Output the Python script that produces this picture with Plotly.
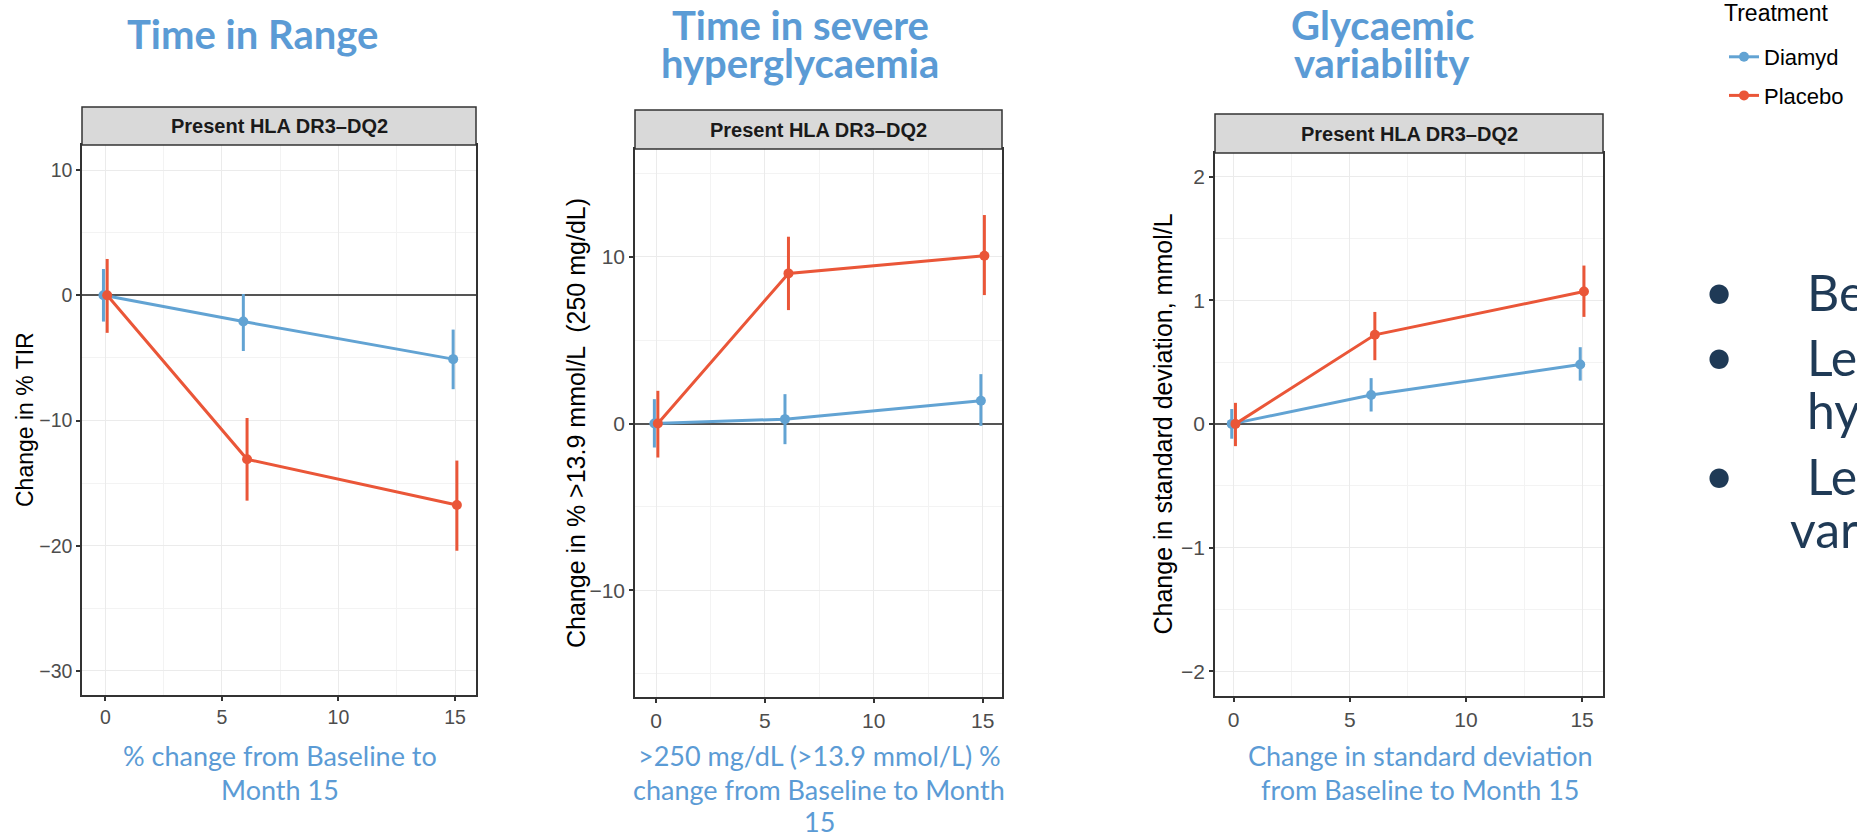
import plotly.graph_objects as go

W, H = 1857, 839

# ---------------- data ----------------
months = [0, 6, 15]
treatments = ["Diamyd", "Placebo"]

tir_mean = {"Diamyd": [0, -2.1, -5.1], "Placebo": [0, -13.1, -16.75]}
tir_lo = {"Diamyd": [-2.1, -4.45, -7.5], "Placebo": [-3.0, -16.4, -20.4]}
tir_hi = {"Diamyd": [2.1, 0.1, -2.74], "Placebo": [2.9, -9.8, -13.2]}

sev_mean = {"Diamyd": [0, 0.26, 1.36], "Placebo": [0, 9.0, 10.06]}
sev_lo = {"Diamyd": [-1.44, -1.24, -0.14], "Placebo": [-2.04, 6.8, 7.7]}
sev_hi = {"Diamyd": [1.46, 1.76, 2.96], "Placebo": [1.96, 11.2, 12.5]}

sd_mean = {"Diamyd": [0, 0.234, 0.48], "Placebo": [0, 0.72, 1.07]}
sd_lo = {"Diamyd": [-0.12, 0.10, 0.35], "Placebo": [-0.18, 0.515, 0.865]}
sd_hi = {"Diamyd": [0.12, 0.37, 0.62], "Placebo": [0.17, 0.905, 1.28]}

x_ticks = [0, 5, 10, 15]
strip_label = "Present HLA DR3\u2013DQ2"
legend_title = "Treatment"
titles = [["Time in Range"], ["Time in severe", "hyperglycaemia"], ["Glycaemic", "variability"]]
captions = [["% change from Baseline to", "Month 15"],
            [">250 mg/dL (>13.9 mmol/L) %", "change from Baseline to Month", "15"],
            ["Change in standard deviation", "from Baseline to Month 15"]]
y_titles = ["Change in % TIR", "Change in % >13.9 mmol/L  (250 mg/dL)",
            "Change in standard deviation, mmol/L"]
bullet_texts = ["Be", "Le", "hy", "Le", "var"]

# ---------------- style ----------------
COL = {"Diamyd": "#62A3D3", "Placebo": "#EA5638"}
DODGE = {"Diamyd": -0.08, "Placebo": 0.08}
BLUE = "#5B9BD5"
NAVY = "#1F3A56"
SANS = "Liberation Sans, Arial, sans-serif"
SLIDE = "Lato, Open Sans, sans-serif"


def px(x):
    return x / W


def py(y):
    return 1 - y / H


panels = [
    dict(data=(tir_mean, tir_lo, tir_hi), box=(82, 476, 145, 695), strip_top=107,
         xr=[-1.0, 15.9], yr=[-31.92, 12.0], ytick=10, yminor=5,
         ytitle_x=25, title_x=252, cap_x=280, tick=19.5, ttl=23),
    dict(data=(sev_mean, sev_lo, sev_hi), box=(635, 1002, 149, 697), strip_top=110,
         xr=[-0.97, 15.89], yr=[-16.4, 16.46], ytick=10, yminor=5,
         ytitle_x=576, title_x=800, cap_x=819, tick=21, ttl=25),
    dict(data=(sd_mean, sd_lo, sd_hi), box=(1215, 1603, 153, 696), strip_top=114,
         xr=[-0.8, 15.9], yr=[-2.2, 2.19], ytick=1, yminor=0.5,
         ytitle_x=1162, title_x=1382, cap_x=1420, tick=21, ttl=25),
]

fig = go.Figure()
layout = dict(width=W, height=H, margin=dict(l=0, r=0, t=0, b=0, autoexpand=False),
              paper_bgcolor="white", plot_bgcolor="white",
              font=dict(family=SANS, color="black"))
shapes, annotations = [], []

for i, p in enumerate(panels):
    n = "" if i == 0 else str(i + 1)
    xa, ya = "x" + n, "y" + n
    mean, lo, hi = p["data"]
    for t in treatments:
        fig.add_trace(go.Scatter(
            x=[m + DODGE[t] for m in months], y=mean[t],
            mode="lines+markers", name=t, legendgroup=t, showlegend=(i == 0),
            line=dict(color=COL[t], width=3),
            marker=dict(color=COL[t], size=10),
            error_y=dict(type="data", symmetric=False,
                         array=[h - m for h, m in zip(hi[t], mean[t])],
                         arrayminus=[m - l for m, l in zip(mean[t], lo[t])],
                         color=COL[t], thickness=3, width=0),
            xaxis=xa, yaxis=ya))
    x0, x1, y0, y1 = p["box"]
    common = dict(showline=True, mirror=True, linecolor="#333333", linewidth=1.5,
                  ticks="outside", ticklen=4, tickwidth=1.5, tickcolor="#333333",
                  showgrid=True, gridcolor="#EBEBEB", gridwidth=1.3,
                  tickfont=dict(family=SANS, size=p["tick"], color="#4D4D4D"),
                  fixedrange=True)
    layout["xaxis" + n] = dict(domain=[px(x0), px(x1)], range=p["xr"], anchor=ya,
                               tickvals=x_ticks, zeroline=False,
                               minor=dict(tickvals=[2.5, 7.5, 12.5], showgrid=True,
                                          gridcolor="#F3F3F3", gridwidth=0.8),
                               **common)
    layout["yaxis" + n] = dict(domain=[py(y1), py(y0)], range=p["yr"], anchor=xa,
                               dtick=p["ytick"], tick0=0,
                               zeroline=True, zerolinecolor="#555555", zerolinewidth=1.6,
                               minor=dict(dtick=p["yminor"], tick0=0, showgrid=True,
                                          gridcolor="#F3F3F3", gridwidth=0.8),
                               **common)
    # strip
    shapes.append(dict(type="rect", xref="paper", yref="paper",
                       x0=px(x0), x1=px(x1), y0=py(y0), y1=py(p["strip_top"]),
                       fillcolor="#D9D9D9", line=dict(color="#333333", width=1.5)))
    annotations.append(dict(xref="paper", yref="paper", x=px((x0 + x1) / 2),
                            y=py((y0 + p["strip_top"]) / 2), text="<b>%s</b>" % strip_label,
                            showarrow=False, xanchor="center", yanchor="middle",
                            font=dict(family=SANS, size=20, color="#1A1A1A")))
    # y title
    annotations.append(dict(xref="paper", yref="paper", x=px(p["ytitle_x"]),
                            y=py((y0 + y1) / 2), text=y_titles[i], textangle=-90,
                            showarrow=False, xanchor="center", yanchor="middle",
                            font=dict(family=SANS, size=p["ttl"], color="black")))
    # slide titles
    tl = titles[i]
    ys = [34] if len(tl) == 1 else [25, 63]
    for line, yy in zip(tl, ys):
        annotations.append(dict(xref="paper", yref="paper", x=px(p["title_x"]), y=py(yy),
                                text="<b>%s</b>" % line, showarrow=False,
                                xanchor="center", yanchor="middle",
                                font=dict(family=SLIDE, size=40, color=BLUE)))
    for line, yy in zip(captions[i], [755, 789, 821]):
        annotations.append(dict(xref="paper", yref="paper", x=px(p["cap_x"]), y=py(yy),
                                text=line, showarrow=False,
                                xanchor="center", yanchor="middle",
                                font=dict(family=SLIDE, size=27, color=BLUE)))

# bullets on the right (slide text clipped at the right edge)
for yy in [290, 355, 474]:
    annotations.append(dict(xref="paper", yref="paper", x=px(1719), y=py(yy), text="\u2022",
                            showarrow=False, xanchor="center", yanchor="middle",
                            font=dict(family=SLIDE, size=52, color=NAVY)))
for txt, xx, yy in zip(bullet_texts, [1805, 1805, 1805, 1805, 1788], [292, 357, 410, 476, 529]):
    annotations.append(dict(xref="paper", yref="paper", x=px(xx), y=py(yy), text=txt,
                            showarrow=False, xanchor="left", yanchor="middle",
                            font=dict(family=SLIDE, size=50, color=NAVY)))

# legend title
annotations.append(dict(xref="paper", yref="paper", x=px(1722), y=py(13), text=legend_title,
                        showarrow=False, xanchor="left", yanchor="middle",
                        font=dict(family=SANS, size=23, color="black")))

layout["shapes"] = shapes
layout["annotations"] = annotations
layout["showlegend"] = True
layout["legend"] = dict(x=px(1724), xanchor="left", y=py(36), yanchor="top",
                        bgcolor="rgba(0,0,0,0)", borderwidth=0, tracegroupgap=7,
                        font=dict(family=SANS, size=22, color="black"),
                        itemclick=False, itemdoubleclick=False)
fig.update_layout(**layout)
fig.write_html("out.html", config={"displayModeBar": False})
